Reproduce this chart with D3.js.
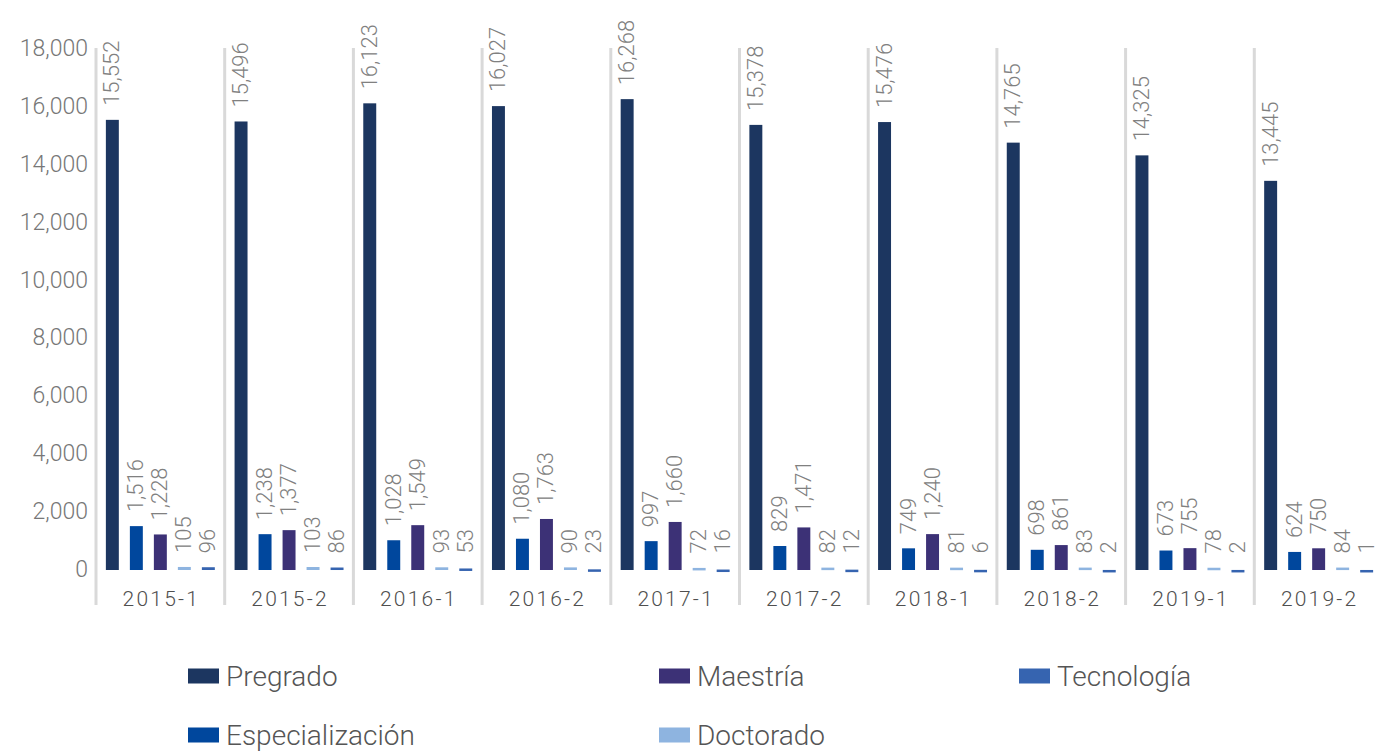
<!DOCTYPE html>
<html>
<head>
<meta charset="utf-8">
<script src="https://cdn.jsdelivr.net/npm/d3@7"></script>
<style>
  body { margin: 0; background: #fff; }
  text { font-family: Roboto, "Noto Sans", sans-serif; }
</style>
</head>
<body>
<div id="graph"></div>
<script>
const periods = ['2015-1', '2015-2', '2016-1', '2016-2', '2017-1', '2017-2', '2018-1', '2018-2', '2019-1', '2019-2'];
const seriesNames = ['Pregrado', 'Especialización', 'Maestría', 'Doctorado', 'Tecnología'];
const pregrado = [15552, 15496, 16123, 16027, 16268, 15378, 15476, 14765, 14325, 13445];
const especializacion = [1516, 1238, 1028, 1080, 997, 829, 749, 698, 673, 624];
const maestria = [1228, 1377, 1549, 1763, 1660, 1471, 1240, 861, 755, 750];
const doctorado = [105, 103, 93, 90, 72, 82, 81, 83, 78, 84];
const tecnologia = [96, 86, 53, 23, 16, 12, 6, 2, 2, 1];
const yTicks = [0, 2000, 4000, 6000, 8000, 10000, 12000, 14000, 16000, 18000];

const seriesValues = [pregrado, especializacion, maestria, doctorado, tecnologia];
const colors = ['#1c3660', '#00479d', '#3c3176', '#8eb4e0', '#3664b0'];

const chartW = 1379, chartH = 751;
const plotLeft = 96, groupW = 128.7, plotBottom = 570, plotTop = 49;

const svg = d3.select('#graph').append('svg')
    .attr('width', chartW)
    .attr('height', chartH);

const x0 = d3.scaleBand()
    .domain(periods)
    .range([plotLeft, plotLeft + groupW * periods.length])
    .padding(0);

const x1 = d3.scaleBand()
    .domain(seriesNames)
    .range([x0.bandwidth() / 2 - 60, x0.bandwidth() / 2 + 60])
    .paddingInner(0.46)
    .paddingOuter(0.23);

const y = d3.scaleLinear()
    .domain([0, 18000])
    .range([plotBottom, plotTop]);

const fmt = d3.format(',');

// group separators
svg.append('g')
    .selectAll('line')
    .data(periods.concat(['end']))
    .enter().append('line')
        .attr('x1', (d, i) => plotLeft + groupW * i)
        .attr('x2', (d, i) => plotLeft + groupW * i)
        .attr('y1', plotTop - 1)
        .attr('y2', 605)
        .attr('stroke', '#d9d9d9')
        .attr('stroke-width', 3);

// y axis
const yAxis = svg.append('g')
    .attr('transform', `translate(${plotLeft - 8},0)`)
    .call(d3.axisLeft(y).tickValues(yTicks).tickFormat(fmt).tickSize(0).tickPadding(0));
yAxis.select('.domain').remove();
yAxis.selectAll('text')
    .attr('font-size', 23)
    .attr('font-weight', 300)
    .attr('fill', '#777777')
    .attr('dy', '0.28em');

// x axis labels
svg.append('g')
    .selectAll('text')
    .data(periods)
    .enter().append('text')
        .attr('x', d => x0(d) + x0.bandwidth() / 2 + 1)
        .attr('y', 606)
        .attr('text-anchor', 'middle')
        .attr('font-size', 21)
        .attr('font-weight', 300)
        .attr('letter-spacing', 2.2)
        .attr('fill', '#4f4f4f')
        .text(d => d);

// bars
const rows = [];
periods.forEach((p, i) => {
    seriesNames.forEach((s, j) => {
        rows.push({ period: p, series: s, value: seriesValues[j][i], color: colors[j] });
    });
});

const groups = svg.append('g').attr('class', 'bars');

groups.selectAll('rect')
    .data(rows)
    .enter().append('rect')
        .attr('x', d => x0(d.period) + x1(d.series))
        .attr('width', x1.bandwidth())
        .attr('y', d => y(d.value))
        .attr('height', d => Math.max(y(0) - y(d.value), 2.5))
        .attr('fill', d => d.color);

groups.selectAll('text')
    .data(rows)
    .enter().append('text')
        .attr('transform', d => {
            const cx = x0(d.period) + x1(d.series) + x1.bandwidth() / 2;
            const cy = Math.min(y(d.value), y(0) - 2.5) - 14;
            return `translate(${cx},${cy}) rotate(-90)`;
        })
        .attr('dy', '0.32em')
        .attr('font-size', 22)
        .attr('font-weight', 300)
        .attr('fill', '#808080')
        .text(d => fmt(d.value));

// legend, column-major in two rows
const legendCols = [188, 659, 1019];
const legendRows = [676, 735];
const legend = svg.append('g')
    .selectAll('g')
    .data(seriesNames)
    .enter().append('g')
        .attr('transform', (d, i) => `translate(${legendCols[Math.floor(i / 2)]},${legendRows[i % 2]})`);

legend.append('rect')
    .attr('x', 0)
    .attr('y', -7.5)
    .attr('width', 31)
    .attr('height', 15)
    .attr('fill', (d, i) => colors[i]);

legend.append('text')
    .attr('x', 38)
    .attr('dy', '0.35em')
    .attr('font-size', 28)
    .attr('font-weight', 300)
    .attr('fill', '#555555')
    .text(d => d);
</script>
</body>
</html>
